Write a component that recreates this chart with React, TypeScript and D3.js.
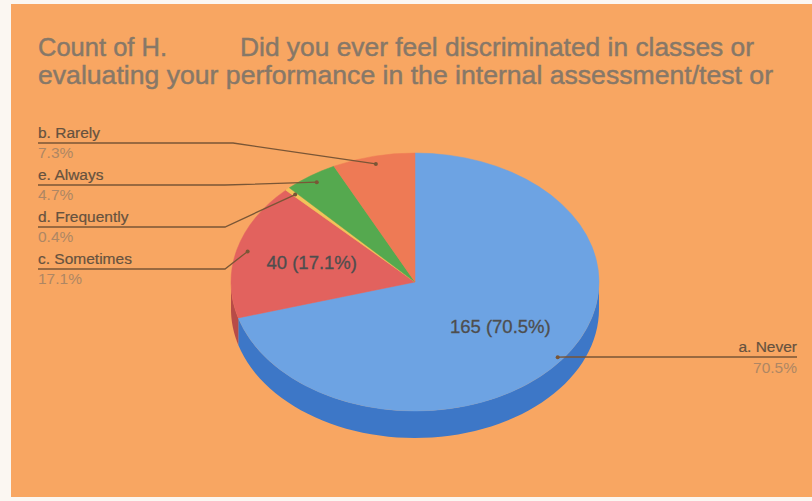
import React from "react";
import * as d3 from "d3";

const categories = ["a. Never", "c. Sometimes", "d. Frequently", "e. Always", "b. Rarely"];
const counts = [165, 40, 1, 11, 17];
const percentLabels = ["70.5%", "17.1%", "0.4%", "4.7%", "7.3%"];
const topColors = ["#6DA3E3", "#E2625E", "#F3C35A", "#55A94F", "#EE7A55"];
const sideColors = ["#3D77C7", "#B84B47", "#C99A3E", "#3E8A3A", "#C55E3E"];
const titleLine1a = "Count of H.";
const titleLine1b = "Did you ever feel discriminated in classes or";
const titleLine2 = "evaluating your performance in the internal assessment/test or";

const W = 812;
const H = 501;
const cx = 415;
const cy = 282;
const rx = 184;
const ry = 129;
const depth = 27;

function pt(a: number, dy = 0, f = 1): [number, number] {
  return [cx + rx * f * Math.sin(a), cy - ry * f * Math.cos(a) + dy];
}

export default function App() {
  const total = d3.sum(counts);
  const pie = d3
    .pie<number>()
    .sort(null)
    .value((d) => d)
    .startAngle(0)
    .endAngle(2 * Math.PI);
  const arcs = pie(counts);
  const arcGen = d3.arc<d3.PieArcDatum<number>>().innerRadius(0).outerRadius(rx);
  const line = d3.line<[number, number]>();

  const sides = arcs
    .map((a, i) => {
      const s = Math.max(a.startAngle, Math.PI / 2);
      const e = Math.min(a.endAngle, (3 * Math.PI) / 2);
      if (e <= s) return null;
      const n = 60;
      const top: [number, number][] = d3.range(n + 1).map((k) => pt(s + ((e - s) * k) / n));
      const bot: [number, number][] = top.map(([x, y]) => [x, y + depth] as [number, number]).reverse();
      return { i, d: line([...top, ...bot])! + "Z" };
    })
    .filter(Boolean) as { i: number; d: string }[];

  const leftOrder = [4, 3, 2, 1];
  const leaderColor = "#7A5636";
  const nameColor = "#66523F";
  const pctColor = "#AE8664";
  const titleColor = "#877868";

  return (
    <svg width={W} height={H} style={{ position: "absolute", left: 0, top: 0 }} fontFamily="Liberation Sans, Arial, sans-serif">
      <rect x={0} y={0} width={W} height={H} fill="#FBF7F2" />
      <rect x={11} y={4} width={W - 11} height={493} fill="#F8A662" />
      <g fill={titleColor} stroke={titleColor} strokeWidth={0.45} fontSize={26}>
        <text x={38} y={56} textLength={129} lengthAdjust="spacingAndGlyphs">{titleLine1a}</text>
        <text x={240} y={56} textLength={514} lengthAdjust="spacingAndGlyphs">{titleLine1b}</text>
        <text x={38} y={84} textLength={735} lengthAdjust="spacingAndGlyphs">{titleLine2}</text>
      </g>

      {sides.map((s) => (
        <path key={"s" + s.i} d={s.d} fill={sideColors[s.i]} />
      ))}
      <g transform={`translate(${cx},${cy}) scale(1,${ry / rx})`}>
        {arcs.map((a, i) => (
          <path key={"t" + i} d={arcGen(a)!} fill={topColors[i]} stroke={topColors[i]} strokeWidth={0.5} vectorEffect="non-scaling-stroke" />
        ))}
      </g>

      {arcs.map((a, i) =>
        counts[i] / total > 0.1 ? (
          (() => {
            const m = (a.startAngle + a.endAngle) / 2;
            const [x, y] = pt(m, 0, 0.58);
            return (
              <text key={"in" + i} x={x} y={y + 6} textAnchor="middle" fontSize={18.5} fill="#4E4E4E" stroke="#4E4E4E" strokeWidth={0.3}>
                {`${counts[i]} (${percentLabels[i]})`}
              </text>
            );
          })()
        ) : null
      )}

      {leftOrder.map((idx, row) => {
        const a = arcs[idx];
        const m = (a.startAngle + a.endAngle) / 2;
        const [px, py] = pt(m, 0, 0.94);
        const ly = 143 + 42 * row;
        const elbow = row === 0 ? 233 : 225;
        return (
          <g key={"l" + idx}>
            <polyline points={`38,${ly} ${elbow},${ly} ${px},${py}`} fill="none" stroke={leaderColor} strokeWidth={1.3} />
            <circle cx={px} cy={py} r={2} fill={leaderColor} />
            <text x={38} y={ly - 5} fontSize={15.5} fill={nameColor} stroke={nameColor} strokeWidth={0.2}>{categories[idx]}</text>
            <text x={38} y={ly + 15} fontSize={15.5} fill={pctColor}>{percentLabels[idx]}</text>
          </g>
        );
      })}

      {(() => {
        const a = arcs[0];
        const m = (a.startAngle + a.endAngle) / 2;
        const [px, py] = pt(m, 0, 0.97);
        const ly = 357;
        return (
          <g>
            <polyline points={`${px},${py} ${px + 8},${ly} 797,${ly}`} fill="none" stroke={leaderColor} strokeWidth={1.3} />
            <circle cx={px} cy={py} r={2} fill={leaderColor} />
            <text x={797} y={ly - 5} textAnchor="end" fontSize={15.5} fill={nameColor} stroke={nameColor} strokeWidth={0.2}>{categories[0]}</text>
            <text x={797} y={ly + 16} textAnchor="end" fontSize={15.5} fill={pctColor}>{percentLabels[0]}</text>
          </g>
        );
      })()}
    </svg>
  );
}
